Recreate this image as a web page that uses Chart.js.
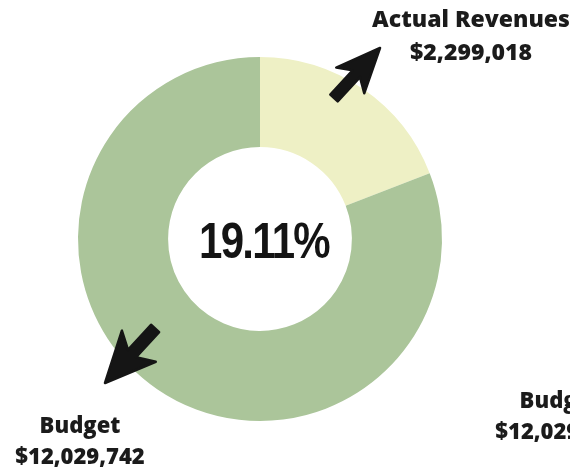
<!DOCTYPE html>
<html>
<head>
<meta charset="utf-8">
<title>Actual Revenues vs Budget</title>
<script src="https://cdn.jsdelivr.net/npm/chart.js@4.4.0/dist/chart.umd.min.js"></script>
<style>
    html, body { margin: 0; padding: 0; background: #ffffff; }
    #wrap { width: 570px; height: 475px; position: relative; overflow: hidden; }
</style>
</head>
<body>
<div id="wrap">
    <canvas id="revenueChart" width="570" height="475"></canvas>
</div>
<script>
// ======================================
// Data
// ======================================
const sliceLabels = ['Actual Revenues', 'Remaining Budget'];
const sliceValues = [2299018, 9730724];
const sliceColors = ['#eef0c5', '#abc59a'];
const budgetTotal = 12029742;

const money = v => '$' + v.toLocaleString('en-US');

// ======================================
// Center percentage + callout labels and arrows
// ======================================
function drawArrow(ctx, tipX, tipY, dirX, dirY, s) {
    const n = Math.hypot(dirX, dirY);
    const dx = dirX / n, dy = dirY / n;
    const px = -dy, py = dx;
    const pts = [
        [0, 0], [s.head, s.wing], [s.notch, s.shaft], [s.len, s.shaft],
        [s.len, -s.shaft], [s.notch, -s.shaft], [s.head, -s.wing]
    ];
    ctx.beginPath();
    pts.forEach(([u, v], i) => {
        const x = tipX + u * dx + v * px;
        const y = tipY + u * dy + v * py;
        if (i === 0) ctx.moveTo(x, y); else ctx.lineTo(x, y);
    });
    ctx.closePath();
    ctx.fillStyle = '#151515';
    ctx.strokeStyle = '#151515';
    ctx.lineWidth = 2.5;
    ctx.lineJoin = 'round';
    ctx.fill();
    ctx.stroke();
}

function drawLabel(ctx, x, y, title, value, size) {
    ctx.fillStyle = '#1b1b1b';
    ctx.textAlign = 'center';
    ctx.textBaseline = 'alphabetic';
    ctx.font = '800 ' + size + 'px "Open Sans"';
    ctx.fillText(title, x, y);
    ctx.fillText(value, x, y + size * 1.42);
}

const calloutPlugin = {
    id: 'callouts',
    afterDraw(chart) {
        const ctx = chart.ctx;
        const arc = chart.getDatasetMeta(0).data[0];
        const cx = arc.x, cy = arc.y;

        ctx.save();

        // percentage of budget collected (condensed horizontally)
        const pct = (sliceValues[0] / budgetTotal * 100).toFixed(2) + '%';
        ctx.save();
        ctx.translate(cx + 4, cy + 19);
        ctx.scale(0.84, 1);
        ctx.font = 'bold 50px "Liberation Sans"';
        ctx.letterSpacing = '-2px';
        ctx.fillStyle = '#141414';
        ctx.textAlign = 'center';
        ctx.textBaseline = 'alphabetic';
        ctx.fillText(pct, 0, 0);
        ctx.restore();

        // arrows
        drawArrow(ctx, cx + 120, cy - 191, -0.68, 0.74,
            { head: 44, wing: 19, notch: 35, shaft: 5, len: 68 });
        drawArrow(ctx, cx - 155, cy + 144, 0.68, -0.74,
            { head: 50, wing: 23, notch: 40, shaft: 5.5, len: 74 });

        // labels
        drawLabel(ctx, cx + 211, cy - 212, sliceLabels[0], money(sliceValues[0]), 23);
        drawLabel(ctx, cx - 180, cy + 194, 'Budget', money(budgetTotal), 22);
        drawLabel(ctx, cx + 300, cy + 169, 'Budget', money(budgetTotal), 22);

        ctx.restore();
    }
};

// ======================================
// Doughnut Chart
// ======================================
function createRevenueChart() {
    const ctx = document.getElementById('revenueChart');
    if (!ctx) return;

    new Chart(ctx, {
        type: 'doughnut',
        data: {
            labels: sliceLabels,
            datasets: [{
                data: sliceValues,
                backgroundColor: sliceColors,
                borderWidth: 0
            }]
        },
        options: {
            responsive: false,
            animation: false,
            cutout: '50.5%',
            layout: {
                padding: { top: 57, bottom: 54, left: 78, right: 128 }
            },
            plugins: {
                legend: { display: false },
                tooltip: { enabled: false },
                title: { display: false }
            }
        },
        plugins: [calloutPlugin]
    });
}

document.addEventListener('DOMContentLoaded', createRevenueChart);
</script>
</body>
</html>
